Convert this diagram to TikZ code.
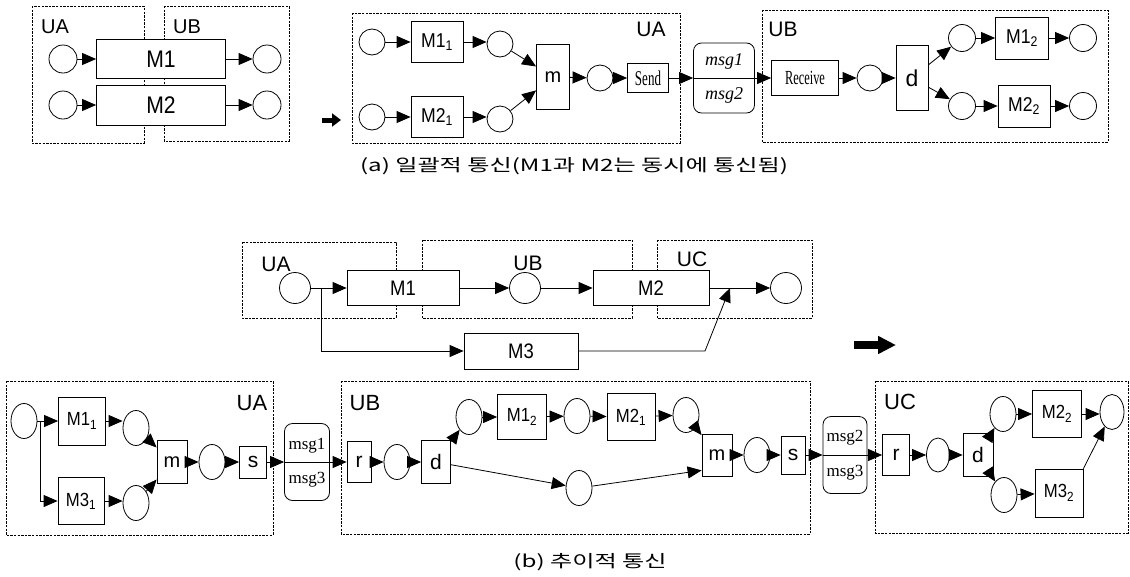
\documentclass[tikz,border=0pt]{standalone}
\usepackage{fontspec}
\setmainfont{Liberation Sans}
\newfontfamily\nsf[FakeStretch=0.88]{Liberation Sans}
\newfontfamily\cserif[FakeStretch=0.62]{Liberation Serif}
\newfontfamily\tserif{Liberation Serif}
\newfontfamily\kr[FakeStretch=1.42]{Noto Sans CJK KR}
\usetikzlibrary{arrows.meta,shapes.geometric}
\newcommand{\fs}[1]{\fontsize{#1}{#1}\selectfont}
\tikzset{
  unitbox/.style={draw, line width=0.75pt, dash pattern=on 2.4pt off 1.2pt},
  pl/.style={draw, circle, line width=0.8pt, inner sep=0pt, minimum size=#1, fill=white},
  el/.style={draw, ellipse, line width=0.8pt, inner sep=0pt, minimum width=26pt, minimum height=35pt, fill=white},
  tr/.style={draw, rectangle, line width=0.8pt, fill=white, inner sep=0pt},
  arr/.style={line width=0.8pt, -{Triangle[length=14pt,width=12pt]}},
  ln/.style={line width=0.8pt},
  lbl/.style={inner sep=0pt, font=\fs{21}},
  msgbox/.style={draw, rectangle, rounded corners=8pt, line width=0.8pt, fill=white, inner sep=0pt},
}
\begin{document}
\begin{tikzpicture}[x=1pt,y=-1pt]
\useasboundingbox (0,0) rectangle (1130,576);

% ================= (a) left =================
\draw[unitbox] (32,6) rectangle (144,143);
\draw[unitbox] (164,6) rectangle (289,141);
\node[lbl, font=\fs{20}] (laUA) at (55,27) {UA};
\node[lbl, font=\fs{20}] (laUB) at (187,27) {UB};
\node[pl=28pt] (la1) at (63,59) {};
\node[pl=28pt] (la2) at (63,105) {};
\node[tr, minimum width=129pt, minimum height=39pt, font=\nsf\fs{24}] (lM1) at (161,59) {M1};
\node[tr, minimum width=129pt, minimum height=40pt, font=\nsf\fs{24}] (lM2) at (161,105) {M2};
\node[pl=28pt] (lb1) at (267,59) {};
\node[pl=28pt] (lb2) at (267,105) {};
\draw[arr] (la1) -- (lM1);
\draw[arr] (la2) -- (lM2);
\draw[arr] (lM1) -- (lb1);
\draw[arr] (lM2) -- (lb2);

% transform arrow (a)
\coordinate (ta1) at (322,120);
\coordinate (ta2) at (341,120);
\draw[line width=5pt, -{Triangle[length=9pt,width=13pt]}] (ta1) -- (ta2);

% ================= (a) right =================
\draw[unitbox] (352,13) rectangle (680,143);
\draw[unitbox] (762,10) rectangle (1108,142);
\node[lbl] (raUA) at (651,29) {UA};
\node[lbl] (raUB) at (783,29) {UB};

\node[pl=26pt] (c1) at (372,42) {};
\node[tr, minimum width=52pt, minimum height=41pt, font=\nsf\fs{20}] (M11) at (437,42) {M1\textsubscript{1}};
\node[pl=26pt] (c2) at (500,44) {};
\node[pl=26pt] (c3) at (372,117) {};
\node[tr, minimum width=52pt, minimum height=41pt, font=\nsf\fs{20}] (M21) at (437,117) {M2\textsubscript{1}};
\node[pl=26pt] (c4) at (500,119) {};
\node[tr, minimum width=33pt, minimum height=65pt, font=\fs{20}] (ma) at (553,77) {m};
\node[pl=26pt] (c5) at (600,78) {};
\node[tr, minimum width=41pt, minimum height=29pt, font=\cserif\fs{21}] (send) at (648,78) {Send};
\node[msgbox, minimum width=61pt, minimum height=70pt] (msga) at (724,78) {};
\draw[ln] (msga.west) -- (msga.east);
\node[inner sep=0pt, font=\tserif\itshape\fs{18}] (msga1) at (724,61) {msg1};
\node[inner sep=0pt, font=\tserif\itshape\fs{18}] (msga2) at (724,95) {msg2};
\node[tr, minimum width=67pt, minimum height=35pt, font=\cserif\fs{20}] (recv) at (805,78) {Receive};
\node[pl=26pt] (c6) at (870,78) {};
\node[tr, minimum width=32pt, minimum height=65pt, font=\fs{23}] (da) at (912,78) {d};
\node[pl=27pt] (c7) at (962,38) {};
\node[tr, minimum width=53pt, minimum height=42pt, font=\nsf\fs{20}] (M12) at (1022,38) {M1\textsubscript{2}};
\node[pl=27pt] (c8) at (1083,38) {};
\node[pl=27pt] (c9) at (962,106) {};
\node[tr, minimum width=52pt, minimum height=42pt, font=\nsf\fs{20}] (M22) at (1024,106) {M2\textsubscript{2}};
\node[pl=27pt] (c10) at (1083,106) {};

\draw[arr] (c1) -- (M11);
\draw[arr] (M11) -- (M11 -| c2.west);
\draw[arr] (c3) -- (M21);
\draw[arr] (M21) -- (M21 -| c4.west);
\draw[arr] (c2) -- (ma);
\draw[arr] (c4) -- (ma);
\draw[arr] (ma) -- (c5);
\draw[arr] (c5) -- (send);
\draw[arr] (send) -- (msga);
\draw[arr] (msga) -- (recv);
\draw[arr] (recv) -- (c6);
\draw[arr] (c6) -- (da);
\draw[arr] (da) -- (c7);
\draw[arr] (da) -- (c9);
\draw[arr] (c7) -- (M12);
\draw[arr] (M12) -- (c8);
\draw[arr] (c9) -- (M22);
\draw[arr] (M22) -- (c10);

% caption (a)
\node[inner sep=0pt, font=\kr\fs{17}] (capa) at (574,166) {(a) 일괄적 통신(M1과 M2는 동시에 통신됨)};

% ================= (b) top =================
\draw[unitbox] (242,242) rectangle (396,318);
\draw[unitbox] (422,240) rectangle (632,318);
\draw[unitbox] (657,240) rectangle (812,318);
\node[lbl] (tbUA) at (276,264) {UA};
\node[lbl] (tbUB) at (528,263) {UB};
\node[lbl] (tbUC) at (692,259) {UC};
\node[pl=31pt] (ta) at (295,288) {};
\node[tr, minimum width=112pt, minimum height=35pt, font=\nsf\fs{21}] (tM1) at (403,288) {M1};
\node[pl=31pt] (tb) at (525,288) {};
\node[tr, minimum width=116pt, minimum height=35pt, font=\nsf\fs{21}] (tM2) at (651,288) {M2};
\node[pl=31pt] (tc) at (786,288) {};
\node[tr, minimum width=114pt, minimum height=36pt, font=\nsf\fs{21}] (tM3) at (521,351) {M3};
\coordinate (tB1) at (321,288);
\coordinate (tJ) at (730,288);
\coordinate (tK) at (705,351);
\draw[arr] (ta) -- (tM1);
\draw[arr] (tB1) |- (tM3);
\draw[arr] (tM1) -- (tb);
\draw[arr] (tb) -- (tM2);
\draw[arr] (tM2) -- (tc);
\draw[arr] (tM3) -- (tK) -- (tJ);

% transform arrow (b)
\coordinate (tb1) at (854,345);
\coordinate (tb2) at (896,345);
\draw[line width=8pt, -{Triangle[length=18pt,width=17pt]}] (tb1) -- (tb2);

% ================= (b) bottom =================
\draw[unitbox] (6,381) rectangle (273,535);
\draw[unitbox] (341,381) rectangle (810,534);
\draw[unitbox] (875,381) rectangle (1128,533);
\node[lbl, font=\fs{22}] (bbUA) at (252,403) {UA};
\node[lbl, font=\fs{22}] (bbUB) at (365,403) {UB};
\node[lbl, font=\fs{22}] (bbUC) at (900,402) {UC};

% UA
\node[el] (e0) at (24,421) {};
\node[tr, minimum width=47pt, minimum height=48pt, font=\nsf\fs{19}] (bM11) at (82,421) {M1\textsubscript{1}};
\node[tr, minimum width=46pt, minimum height=47pt, font=\nsf\fs{19}] (bM31) at (81,501) {M3\textsubscript{1}};
\node[el] (e1) at (136,428) {};
\node[el] (e2) at (136,503) {};
\node[tr, minimum width=30pt, minimum height=43pt, font=\fs{20}] (bm1) at (172,462) {m};
\node[el] (e3) at (212,462) {};
\node[tr, minimum width=27pt, minimum height=32pt, font=\fs{21}] (bs1) at (253,462) {s};
\node[msgbox, minimum width=45pt, minimum height=77pt] (msgb) at (307,462) {};
\draw[ln] (msgb.west) -- (msgb.east);
\node[inner sep=0pt, font=\tserif\fs{17}] (msgb1) at (307,446) {msg1};
\node[inner sep=0pt, font=\tserif\fs{17}] (msgb3) at (307,480) {msg3};
\coordinate (bB1) at (40,421);
\draw[arr] (e0) -- (bM11);
\draw[arr] (bB1) |- (bM31);
\draw[arr] (bM11) -- (bM11 -| e1.west);
\draw[arr] (bM31) -- (bM31 -| e2.west);
\draw[arr] (e1) -- (bm1);
\draw[arr] (e2) -- (bm1);
\draw[arr] (bm1) -- (e3);
\draw[arr] (e3) -- (bs1);
\draw[arr] (bs1) -- (msgb);

% UB
\node[tr, minimum width=24pt, minimum height=41pt, font=\fs{21}] (br1) at (359,462) {r};
\node[el] (e4) at (397,462) {};
\node[tr, minimum width=29pt, minimum height=43pt, font=\fs{21}] (bd1) at (436,462) {d};
\node[el] (e5) at (469,417) {};
\node[tr, minimum width=49pt, minimum height=45pt, font=\nsf\fs{19}] (bM12) at (522,417) {M1\textsubscript{2}};
\node[el] (e6) at (577,416) {};
\node[tr, minimum width=48pt, minimum height=47pt, font=\nsf\fs{19}] (bM21) at (631,417) {M2\textsubscript{1}};
\node[el] (e7) at (686,415) {};
\node[tr, minimum width=30pt, minimum height=42pt, font=\fs{20}] (bm2) at (717,455) {m};
\node[el] (e8) at (757,455) {};
\node[el] (eL) at (579,488) {};
\node[tr, minimum width=24pt, minimum height=38pt, font=\fs{21}] (bs2) at (793,455) {s};
\node[msgbox, minimum width=44pt, minimum height=77pt] (msgc) at (845,455) {};
\draw[ln] (msgc.west) -- (msgc.east);
\node[inner sep=0pt, font=\tserif\fs{17}] (msgc2) at (845,438) {msg2};
\node[inner sep=0pt, font=\tserif\fs{17}] (msgc3) at (845,473) {msg3};
\draw[arr] (msgb) -- (br1);
\draw[arr] (br1) -- (e4);
\draw[arr] (e4) -- (bd1);
\draw[arr] (bd1) -- (e5);
\draw[arr] (e5) -- (bM12);
\draw[arr] (bM12) -- (e6);
\draw[arr] (e6) -- (bM21);
\draw[arr] (bM21) -- (e7);
\draw[arr] (e7) -- (bm2);
\draw[arr] (bd1) -- (eL);
\draw[arr] (eL) -- ([yshift=6pt]bm2.south west);
\draw[arr] (bm2) -- (e8);
\draw[arr] (e8) -- (bs2);
\draw[arr] (bs2) -- (msgc);

% UC
\node[tr, minimum width=27pt, minimum height=41pt, font=\fs{21}] (br2) at (896,455) {r};
\node[el, minimum width=23pt, minimum height=34pt] (e9) at (938,455) {};
\node[tr, minimum width=30pt, minimum height=43pt, font=\fs{21}] (bd2) at (978,455) {d};
\node[el] (e10) at (1003,414) {};
\node[tr, minimum width=49pt, minimum height=47pt, font=\nsf\fs{19}] (bM22) at (1057,414) {M2\textsubscript{2}};
\node[el, minimum width=24pt] (e11) at (1112,412) {};
\node[el] (e12) at (1004,495) {};
\node[tr, minimum width=48pt, minimum height=48pt, font=\nsf\fs{19}] (bM32) at (1059,493) {M3\textsubscript{2}};
\draw[arr] (msgc) -- (br2);
\draw[arr] (br2) -- (e9);
\draw[arr] (e9) -- (bd2);
\draw[arr] (bd2) -- (e10);
\draw[arr] (bd2) -- (e12);
\draw[arr] (e10) -- (bM22);
\draw[arr] (bM22) -- (bM22 -| e11.west);
\draw[arr] (e12) -- (bM32);
\draw[arr] (bM32.north east) -- (e11);

% caption (b)
\node[inner sep=0pt, font=\kr\fs{17}] (capb) at (590,562) {(b) 추이적 통신};
\end{tikzpicture}
\end{document}
